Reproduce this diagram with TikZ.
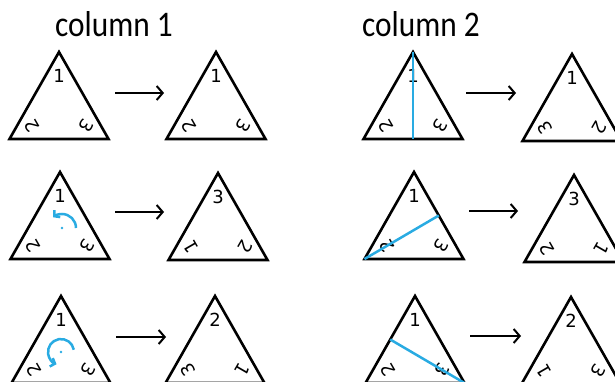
\documentclass[tikz,border=0pt]{standalone}
\usepackage{fontspec}
\setmainfont{DejaVu Sans}
\newfontfamily\titlefont{Carlito}
\usepackage{graphicx}
\definecolor{symblue}{RGB}{41,171,226}
\usetikzlibrary{arrows.meta,calc}
\tikzset{
  tri/.style={draw=black, line width=2.6pt, line join=miter},
  corner/.style={font=\fontsize{18}{18}\selectfont, inner sep=0pt},
  maparrow/.style={line width=2.4pt, -{Straight Barb[length=6pt,width=14pt,line width=2pt]}},
  mirror/.style={symblue, line width=2.5pt},
  turn/.style={symblue, line width=2.5pt, -{Straight Barb[length=4pt,width=9pt]}},
  coltitle/.style={font=\titlefont\fontsize{36}{36}\selectfont, anchor=base},
}
% triangle with apex at (#2,#3), corner labels top / left / right
\newcommand{\symtri}[6]{%
  \coordinate (#1t) at (#2,#3);
  \coordinate (#1l) at (#2-49.5,#3+87);
  \coordinate (#1r) at (#2+49.5,#3+87);
  \draw[tri] (#1t) -- (#1l) -- (#1r) -- cycle;
  \node[corner] (#1a) at ($(#1t)+(0,24)$) {#4};
  \node[corner, rotate=120] (#1b) at ($(#1l)+(22,-13)$) {#5};
  \node[corner, rotate=-120] (#1c) at ($(#1r)+(-22,-13)$) {#6};
}

\begin{document}
\begin{tikzpicture}[x=1pt, y=-1pt]
\clip (0,0) rectangle (615,382);

% --- Titles ---
\node[coltitle] (title1) at (114,37) {\scalebox{0.87}[1]{column 1}};
\node[coltitle] (title2) at (421,37) {\scalebox{0.87}[1]{column 2}};

% --- Column 1: rotations ---
\symtri{A1}{59}{52}{1}{2}{3}
\symtri{B1}{216}{52}{1}{2}{3}
\coordinate (m1s) at (115,93);
\coordinate (m1e) at (164,93);
\draw[maparrow] (m1s) -- (m1e);

\symtri{A2}{60}{172}{1}{2}{3}
\symtri{B2}{218}{173}{3}{1}{2}
\coordinate (A2o) at (62,228);
\fill[symblue] (A2o) circle (1.4);
\draw[turn] ($(A2o)+(14,0)$) arc[start angle=0, end angle=-130, radius=14];
\coordinate (m2s) at (115,212);
\coordinate (m2e) at (164,212);
\draw[maparrow] (m2s) -- (m2e);

\symtri{A3}{61}{296}{1}{2}{3}
\symtri{B3}{215}{296}{2}{3}{1}
\coordinate (A3o) at (61,352);
\fill[symblue] (A3o) circle (1.4);
\draw[turn] ($(A3o)+(-10:13)$) arc[start angle=-10, end angle=-250, radius=13];
\coordinate (m3s) at (116,337);
\coordinate (m3e) at (166,337);
\draw[maparrow] (m3s) -- (m3e);

% --- Column 2: reflections ---
\symtri{C1}{413}{52}{1}{2}{3}
\draw[mirror] (C1t) -- (C1t |- C1l);
\symtri{D1}{572}{54}{1}{3}{2}
\coordinate (n1s) at (466,93);
\coordinate (n1e) at (516,93);
\draw[maparrow] (n1s) -- (n1e);

\symtri{C2}{414}{172}{1}{2}{3}
\draw[mirror] (C2l) -- ($(C2t)!0.5!(C2r)$);
\symtri{D2}{574}{175}{3}{2}{1}
\coordinate (n2s) at (469,211);
\coordinate (n2e) at (518,211);
\draw[maparrow] (n2s) -- (n2e);

\symtri{C3}{415}{296}{1}{2}{3}
\draw[mirror] ($(C3t)!0.5!(C3l)$) -- (C3r);
\symtri{D3}{571}{297}{2}{1}{3}
\coordinate (n3s) at (470,336);
\coordinate (n3e) at (521,336);
\draw[maparrow] (n3s) -- (n3e);

\end{tikzpicture}
\end{document}
